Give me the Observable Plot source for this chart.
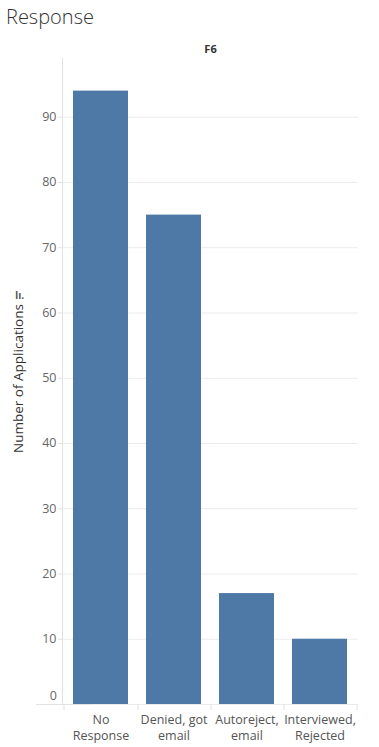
<!DOCTYPE html>
<html><head><meta charset="utf-8">
<script src="https://cdn.jsdelivr.net/npm/d3@7"></script>
<script src="https://cdn.jsdelivr.net/npm/@observablehq/plot@0.6"></script>
<style>
body{margin:0;background:#fff;font-family:"Open Sans",sans-serif;}
#title{height:34px;font-size:20px;font-weight:300;color:#333;padding-left:6px;line-height:34px;box-sizing:border-box;}
</style></head><body>
<div id="title">Response</div>
<div id="chart"></div>
<script>
const categories = ["No\nResponse","Denied, got\nemail","Autoreject,\nemail","Interviewed,\nRejected"];
const values = [94, 75, 17, 10];
const yTicks = [0,10,20,30,40,50,60,70,80,90];
const header = "F6";
const yLabel = "Number of Applications";

const data = categories.map((c,i)=>({cat:c, val:values[i]}));
const gridColor = "#ebebeb";
const lineColor = "#e2e2e2";
const plot = Plot.plot({
  width: 379,
  height: 713,
  marginLeft: 62,
  marginRight: 21,
  marginTop: 24,
  marginBottom: 43,
  style: {fontFamily: '"Open Sans", sans-serif', fontSize: "12.5px", color: "#666", background: "#fff"},
  x: {domain: categories, paddingInner: 0.243, paddingOuter: 0.1216, label: null},
  y: {domain: [0, 99], label: null},
  marks: [
    Plot.gridY(yTicks, {stroke: gridColor, strokeOpacity: 1}),
    Plot.frame({anchor: "left", stroke: lineColor, strokeOpacity: 1}),
    Plot.barY(data, {x: "cat", y: "val", fill: "#4e79a7"}),
    Plot.axisY(yTicks.filter(d=>d!==0), {tickSize: 4, tickPadding: 2, stroke: lineColor, color:"#666", fontSize: 12.5, label: null}),
    Plot.text([0], {x: ()=>categories[0], y: d=>d, dx: -44, dy: -9, text: d=>String(d), textAnchor: "end", fill: "#666", fontSize: 12.5}),
    Plot.tickY([0], {x: ()=>categories[0], y: d=>d, dx:-37, stroke: lineColor}),
    Plot.axisX({tickSize: 0, tickPadding: 8, fontSize: 12.5, color: "#555", lineHeight: 1.3, label: null}),
    Plot.ruleX(categories, {x: d=>d, dx: 37, y1: 0, y2: 0, insetBottom: -6, stroke: lineColor}),
    Plot.ruleX([categories[0]], {x: d=>d, dx: -37, y1: 0, y2: 0, insetBottom: -6, stroke: lineColor}),
    Plot.text([header], {frameAnchor: "top", dy: -13, text: d=>d, fontWeight: "bold", fontSize: 11, fill: "#333"}),
    Plot.text([yLabel], {frameAnchor: "left", textAnchor: "middle", dx: -44, dy: -3, rotate: -90, text: d=>d, fontSize: 13.5, fill: "#333"}),
    Plot.text(["Iı."], {frameAnchor: "left", textAnchor: "middle", dx: -43, dy: -86, text: d=>d, fontSize: 10, fontWeight: "bold", fill: "#555"})
  ]
});
document.getElementById("chart").appendChild(plot);
</script>
</body></html>
